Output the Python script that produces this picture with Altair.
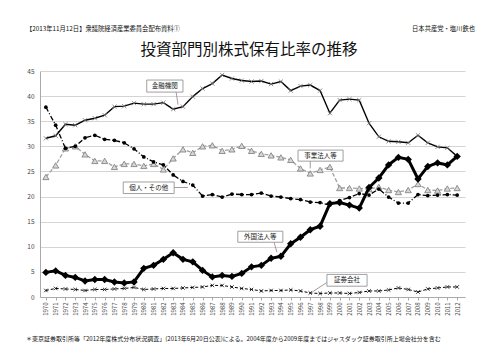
import altair as alt
import pandas as pd

years = list(range(1970, 2013))

fin = [31.6, 32.1, 34.4, 34.2, 35.2, 35.6, 36.2, 37.9, 38.0, 38.6,
       38.4, 38.4, 38.7, 37.4, 37.9, 39.9, 41.5, 42.5, 44.2, 43.5,
       43.1, 42.9, 43.0, 42.4, 42.9, 41.1, 42.0, 42.2, 41.1, 36.6,
       39.2, 39.4, 39.2, 34.6, 31.9, 31.0, 30.9, 30.7, 32.2, 30.7,
       29.9, 29.7, 28.0]
corp = [23.9, 26.2, 29.6, 30.0, 28.4, 27.1, 27.1, 25.9, 26.5, 26.5,
        26.1, 26.5, 25.4, 27.6, 29.4, 28.7, 30.0, 30.2, 29.1, 29.4,
        30.1, 29.1, 28.5, 28.2, 27.8, 27.3, 25.6, 24.6, 25.3, 25.9,
        21.7, 21.7, 21.6, 21.5, 21.9, 21.3, 20.9, 21.3, 22.5, 21.3,
        21.2, 21.6, 21.7]
indiv = [37.8, 34.2, 29.6, 30.0, 31.7, 32.2, 31.4, 31.2, 30.7, 29.5,
         27.9, 26.9, 26.3, 24.3, 23.0, 22.3, 20.1, 20.4, 19.9, 20.5,
         20.4, 20.4, 20.7, 20.1, 19.9, 19.6, 19.4, 18.9, 18.8, 18.3,
         19.2, 19.8, 20.6, 20.3, 21.5, 19.9, 18.7, 18.7, 20.4, 20.2,
         20.3, 20.4, 20.3]
foreign = [4.9, 5.2, 4.3, 3.9, 3.2, 3.5, 3.5, 3.0, 2.8, 3.0,
           5.7, 6.3, 7.5, 8.8, 7.5, 7.0, 5.3, 4.0, 4.3, 4.1,
           4.7, 6.0, 6.3, 7.7, 8.1, 10.6, 11.9, 13.4, 14.1, 18.6,
           18.8, 18.3, 17.7, 21.8, 23.7, 26.3, 27.8, 27.4, 23.5, 26.0,
           26.7, 26.3, 28.0]
sec = [1.3, 1.7, 1.6, 1.5, 1.3, 1.5, 1.5, 1.6, 1.7, 1.9,
       1.5, 1.6, 1.7, 1.7, 1.8, 1.9, 2.0, 2.3, 2.3, 2.0,
       1.7, 1.5, 1.2, 1.3, 1.3, 1.4, 1.2, 0.8, 0.7, 0.8,
       0.8, 0.7, 0.9, 1.2, 1.2, 1.4, 1.8, 1.5, 1.0, 1.6,
       1.8, 2.0, 2.0]

# callout labels (data coordinates: year, percent)
ann_text = ["金融機関", "事業法人等", "個人・その他", "外国法人等", "証券会社"]
ann_x1 = [1980.3, 1995.75, 1977.9, 1989.6, 1998.7]
ann_x2 = [1984.0, 2000.35, 1983.1, 1994.2, 2002.8]
ann_y1 = [43.2, 29.25, 22.9, 13.1, 4.5]
ann_y2 = [40.8, 27.05, 20.6, 10.9, 2.15]
arr_x1 = [1983.3, 1997.0, 1983.1, 1993.3, 1998.7]
arr_y1 = [40.8, 27.05, 21.8, 10.9, 2.9]
arr_x2 = [1983.5, 1997.0, 1984.5, 1993.6, 1997.2]
arr_y2 = [38.3, 25.6, 21.8, 8.9, 1.0]

FONT = "Noto Sans CJK JP"

xs = alt.Scale(domain=[1969.4, 2012.8], nice=False, zero=False)
ys = alt.Scale(domain=[0, 45], nice=False)
x_axis = alt.Axis(values=years, format="d", labelAngle=270, labelFontSize=6,
                  labelColor="#444", grid=False, ticks=True, tickSize=3,
                  tickColor="#aaa", domainColor="#aaa", title=None,
                  labelPadding=2, labelOverlap=False, labelBaseline="middle",
                  labelAlign="right")
y_axis = alt.Axis(values=list(range(0, 46, 5)), grid=True, gridColor="#d4d4d4",
                  labelFontSize=6.5, labelColor="#444", ticks=False,
                  domainColor="#aaa", title=None, labelPadding=6)
x_enc = alt.X("year:Q", scale=xs, axis=x_axis)
y_enc = alt.Y("v:Q", scale=ys, axis=y_axis)


def series_df(vals):
    return pd.DataFrame({"year": years, "v": vals})


xpath = "M-1,-1L1,1M-1,1L1,-1"

layers = []
# 金融機関
d = series_df(fin)
layers.append(alt.Chart(d).mark_line(color="black", strokeWidth=1.4).encode(x=x_enc, y=y_enc))
layers.append(alt.Chart(d).mark_point(shape=xpath, size=18, filled=False, color="#777",
                                      strokeWidth=0.8, opacity=1).encode(x=x_enc, y=y_enc))
# 事業法人等
d = series_df(corp)
layers.append(alt.Chart(d).mark_line(color="#a0a0a0", strokeWidth=1.3, strokeDash=[4, 2]).encode(x=x_enc, y=y_enc))
layers.append(alt.Chart(d).mark_point(shape="triangle-up", size=38, filled=True, fill="#d6d6d6",
                                      stroke="#7a7a7a", strokeWidth=0.8, opacity=1).encode(x=x_enc, y=y_enc))
# 個人・その他
d = series_df(indiv)
layers.append(alt.Chart(d).mark_line(color="black", strokeWidth=1.3, strokeDash=[5, 2, 1, 2]).encode(x=x_enc, y=y_enc))
layers.append(alt.Chart(d).mark_point(shape="circle", size=14, filled=True, color="black",
                                      opacity=1).encode(x=x_enc, y=y_enc))
# 外国法人等
d = series_df(foreign)
layers.append(alt.Chart(d).mark_line(color="black", strokeWidth=3).encode(x=x_enc, y=y_enc))
layers.append(alt.Chart(d).mark_point(shape="diamond", size=55, filled=True, color="black",
                                      opacity=1).encode(x=x_enc, y=y_enc))
# 証券会社
d = series_df(sec)
layers.append(alt.Chart(d).mark_line(color="black", strokeWidth=1.0, strokeDash=[3, 2]).encode(x=x_enc, y=y_enc))
layers.append(alt.Chart(d).mark_point(shape=xpath, size=12, filled=False, color="black",
                                      strokeWidth=0.8, opacity=1).encode(x=x_enc, y=y_enc))

# callouts (same field names so they share the axes)
arrows = pd.DataFrame({"year": arr_x1, "year2": arr_x2, "v": arr_y1, "v2": arr_y2})
boxes = pd.DataFrame({"year": ann_x1, "year2": ann_x2, "v": ann_y1, "v2": ann_y2})
labels = pd.DataFrame({"t": ann_text,
                       "year": [(a + b) / 2 for a, b in zip(ann_x1, ann_x2)],
                       "v": [(a + b) / 2 for a, b in zip(ann_y1, ann_y2)]})

layers.append(alt.Chart(arrows).mark_rule(color="#8a6a6a", strokeWidth=0.7).encode(
    x=x_enc, x2="year2:Q", y=y_enc, y2="v2:Q"))
layers.append(alt.Chart(boxes).mark_rect(fill="white", stroke="#888", strokeWidth=0.8).encode(
    x=x_enc, x2="year2:Q", y=y_enc, y2="v2:Q"))
layers.append(alt.Chart(labels).mark_text(fontSize=6.5, font=FONT, color="#222").encode(
    x=x_enc, y=y_enc, text="t:N"))

# header / footer texts
head_left = ["【2013年11月12日】衆議院経済産業委員会配布資料①"]
head_right = ["日本共産党・塩川鉄也"]
title_txt = ["投資部門別株式保有比率の推移"]
foot_txt = ["＊東京証券取引所等「2012年度株式分布状況調査」(2013年6月20日公表)による。2004年度から2009年度まではジャスダック証券取引所上場会社分を含む"]

layers.append(alt.Chart(pd.DataFrame({"t": head_left})).mark_text(
    fontSize=6.3, font=FONT, align="left", baseline="middle", color="#111").encode(
    text="t:N", x=alt.value(-14), y=alt.value(-42)))
layers.append(alt.Chart(pd.DataFrame({"t": head_right})).mark_text(
    fontSize=6.3, font=FONT, align="right", baseline="middle", color="#111").encode(
    text="t:N", x=alt.value(435), y=alt.value(-42)))
layers.append(alt.Chart(pd.DataFrame({"t": title_txt})).mark_text(
    fontSize=15.5, font=FONT, align="center", baseline="middle", color="#111").encode(
    text="t:N", x=alt.value(209), y=alt.value(-21)))
layers.append(alt.Chart(pd.DataFrame({"t": foot_txt})).mark_text(
    fontSize=6, font=FONT, align="left", baseline="middle", color="#111").encode(
    text="t:N", x=alt.value(-14), y=alt.value(268)))

chart = alt.layer(*layers).properties(
    width=425, height=226,
    padding={"left": 40, "top": 71, "right": 35, "bottom": 56},
    autosize="none",
    background="white",
).configure(font=FONT).configure_view(stroke=None)

chart.save("out.html", embed_options={"renderer": "svg", "actions": False})
